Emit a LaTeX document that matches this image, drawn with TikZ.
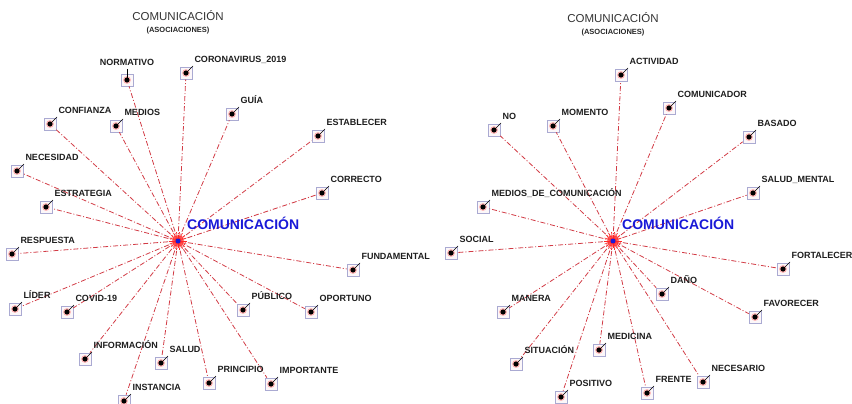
\documentclass[tikz,border=0pt]{standalone}
\usepackage{fontspec}
\setmainfont{Liberation Sans}
\usetikzlibrary{positioning}

\definecolor{linkred}{RGB}{210,60,70}
\definecolor{boxline}{RGB}{170,170,210}
\definecolor{boxfill}{RGB}{252,247,249}
\definecolor{hubblue}{RGB}{25,25,215}
\definecolor{labgray}{RGB}{30,30,30}

\tikzset{
  wbox/.style={draw=boxline, fill=boxfill, minimum size=12pt, inner sep=0pt, line width=0.6pt},
  wlab/.style={font=\bfseries\fontsize{9}{9}\selectfont, text=labgray, inner sep=0pt, text height=6.5pt, text depth=0pt},
  link/.style={draw=linkred, line width=0.8pt, dash pattern=on 5pt off 2pt on 1pt off 2pt},
  hublab/.style={font=\bfseries\fontsize{14}{14}\selectfont, text=hubblue, inner sep=0pt, text height=10pt, text depth=0pt},
  ttl/.style={font=\fontsize{11.5}{12}\selectfont, text=black!80},
  subttl/.style={font=\bfseries\fontsize{7.5}{8}\selectfont, text=black!85}
}

\begin{document}
\begin{tikzpicture}[x=1pt, y=-1pt]
    \useasboundingbox (0,0) rectangle (852,404);

    \node[ttl] (titleL) at (178,16) {COMUNICACIÓN};
    \node[subttl] (subL) at (178,30.5) {(ASOCIACIONES)};
    \node[ttl] (titleR) at (613,18) {COMUNICACIÓN};
    \node[subttl] (subR) at (613,32.5) {(ASOCIACIONES)};

    \coordinate (comL) at (178,241);
    \coordinate (comR) at (613,241);

    \node[wbox] (normativo) at (127,80) {};
    \node[wbox] (coronavirus) at (186,73) {};
    \node[wbox] (guia) at (232,114) {};
    \node[wbox] (confianza) at (50,124) {};
    \node[wbox] (medios) at (116,126) {};
    \node[wbox] (establecer) at (318,136) {};
    \node[wbox] (necesidad) at (17,171) {};
    \node[wbox] (correcto) at (322,193) {};
    \node[wbox] (estrategia) at (46,207) {};
    \node[wbox] (respuesta) at (12,254) {};
    \node[wbox] (fundamental) at (353,270) {};
    \node[wbox] (lider) at (15,309) {};
    \node[wbox] (covid) at (67,312) {};
    \node[wbox] (publico) at (243,310) {};
    \node[wbox] (oportuno) at (311,312) {};
    \node[wbox] (informacion) at (85,359) {};
    \node[wbox] (salud) at (161,363) {};
    \node[wbox] (principio) at (209,383) {};
    \node[wbox] (importante) at (271,384) {};
    \node[wbox] (instancia) at (124,401) {};

    \node[wbox] (actividad) at (621,75) {};
    \node[wbox] (comunicador) at (669,108) {};
    \node[wbox] (no) at (494,130) {};
    \node[wbox] (momento) at (553,126) {};
    \node[wbox] (basado) at (749,137) {};
    \node[wbox] (saludmental) at (753,193) {};
    \node[wbox] (mediosdecom) at (483,207) {};
    \node[wbox] (social) at (451,253) {};
    \node[wbox] (fortalecer) at (783,269) {};
    \node[wbox] (dano) at (662,294) {};
    \node[wbox] (manera) at (503,312) {};
    \node[wbox] (favorecer) at (755,317) {};
    \node[wbox] (medicina) at (599,350) {};
    \node[wbox] (situacion) at (516,364) {};
    \node[wbox] (necesario) at (703,382) {};
    \node[wbox] (frente) at (647,393) {};
    \node[wbox] (positivo) at (561,397) {};

    \foreach \n in {normativo,coronavirus,guia,confianza,medios,establecer,necesidad,correcto,estrategia,respuesta,fundamental,lider,covid,publico,oportuno,informacion,salud,principio,importante,instancia}
        \draw[link] (comL) -- (\n);
    \foreach \n in {actividad,comunicador,no,momento,basado,saludmental,mediosdecom,social,fortalecer,dano,manera,favorecer,medicina,situacion,necesario,frente,positivo}
        \draw[link] (comR) -- (\n);

    \foreach \n in {coronavirus,guia,confianza,medios,establecer,necesidad,correcto,estrategia,respuesta,fundamental,lider,covid,publico,oportuno,informacion,salud,principio,importante,instancia,actividad,comunicador,no,momento,basado,saludmental,mediosdecom,social,fortalecer,dano,manera,favorecer,medicina,situacion,necesario,frente,positivo} {
        \fill[red!30] (\n) circle (3.9pt);
        \fill[black] (\n) circle (2.6pt);
        \draw[line width=0.5pt] (\n.center) -- ++(7,-7);
    }
    \fill[red!30] (normativo) circle (3.9pt);
    \fill[black] (normativo) circle (2.6pt);
    \draw[line width=0.5pt] (normativo.center) -- ++(0,-11);

    \node[wlab, above=8pt of normativo] {NORMATIVO};
    \node[wlab, right=2pt of coronavirus.north east, yshift=7.5pt] {CORONAVIRUS\_2019};
    \node[wlab, right=2pt of guia.north east, yshift=7.5pt] {GUÍA};
    \node[wlab, right=2pt of confianza.north east, yshift=7.5pt] {CONFIANZA};
    \node[wlab, right=2pt of medios.north east, yshift=7.5pt] {MEDIOS};
    \node[wlab, right=2pt of establecer.north east, yshift=7.5pt] {ESTABLECER};
    \node[wlab, right=2pt of necesidad.north east, yshift=7.5pt] {NECESIDAD};
    \node[wlab, right=2pt of correcto.north east, yshift=7.5pt] {CORRECTO};
    \node[wlab, right=2pt of estrategia.north east, yshift=7.5pt] {ESTRATEGIA};
    \node[wlab, right=2pt of respuesta.north east, yshift=7.5pt] {RESPUESTA};
    \node[wlab, right=2pt of fundamental.north east, yshift=7.5pt] {FUNDAMENTAL};
    \node[wlab, right=2pt of lider.north east, yshift=7.5pt] {LÍDER};
    \node[wlab, right=2pt of covid.north east, yshift=7.5pt] {COVID-19};
    \node[wlab, right=2pt of publico.north east, yshift=7.5pt] {PÚBLICO};
    \node[wlab, right=2pt of oportuno.north east, yshift=7.5pt] {OPORTUNO};
    \node[wlab, right=2pt of informacion.north east, yshift=7.5pt] {INFORMACIÓN};
    \node[wlab, right=2pt of salud.north east, yshift=7.5pt] {SALUD};
    \node[wlab, right=2pt of principio.north east, yshift=7.5pt] {PRINCIPIO};
    \node[wlab, right=2pt of importante.north east, yshift=7.5pt] {IMPORTANTE};
    \node[wlab, right=2pt of instancia.north east, yshift=7.5pt] {INSTANCIA};

    \node[wlab, right=2pt of actividad.north east, yshift=7.5pt] {ACTIVIDAD};
    \node[wlab, right=2pt of comunicador.north east, yshift=7.5pt] {COMUNICADOR};
    \node[wlab, right=2pt of no.north east, yshift=7.5pt] {NO};
    \node[wlab, right=2pt of momento.north east, yshift=7.5pt] {MOMENTO};
    \node[wlab, right=2pt of basado.north east, yshift=7.5pt] {BASADO};
    \node[wlab, right=2pt of saludmental.north east, yshift=7.5pt] {SALUD\_MENTAL};
    \node[wlab, right=2pt of mediosdecom.north east, yshift=7.5pt] {MEDIOS\_DE\_COMUNICACIÓN};
    \node[wlab, right=2pt of social.north east, yshift=7.5pt] {SOCIAL};
    \node[wlab, right=2pt of fortalecer.north east, yshift=7.5pt] {FORTALECER};
    \node[wlab, right=2pt of dano.north east, yshift=7.5pt] {DAÑO};
    \node[wlab, right=2pt of manera.north east, yshift=7.5pt] {MANERA};
    \node[wlab, right=2pt of favorecer.north east, yshift=7.5pt] {FAVORECER};
    \node[wlab, right=2pt of medicina.north east, yshift=7.5pt] {MEDICINA};
    \node[wlab, right=2pt of situacion.north east, yshift=7.5pt] {SITUACIÓN};
    \node[wlab, right=2pt of necesario.north east, yshift=7.5pt] {NECESARIO};
    \node[wlab, right=2pt of frente.north east, yshift=7.5pt] {FRENTE};
    \node[wlab, right=2pt of positivo.north east, yshift=7.5pt] {POSITIVO};

    \foreach \c in {comL,comR} {
        \fill[red!30] (\c) circle (6pt);
        \foreach \a in {0,20,...,340}
            \draw[red!85, line width=0.6pt] (\c) -- ++(\a:9pt);
        \foreach \a in {10,30,...,350}
            \draw[red!85, line width=0.6pt] (\c) -- ++(\a:6.5pt);
        \fill[hubblue] (\c) circle (2.5pt);
    }
    \node[hublab, anchor=west] (hubL) at ([xshift=9pt, yshift=17pt]comL) {COMUNICACIÓN};
    \node[hublab, anchor=west] (hubR) at ([xshift=9pt, yshift=17pt]comR) {COMUNICACIÓN};
\end{tikzpicture}
\end{document}
